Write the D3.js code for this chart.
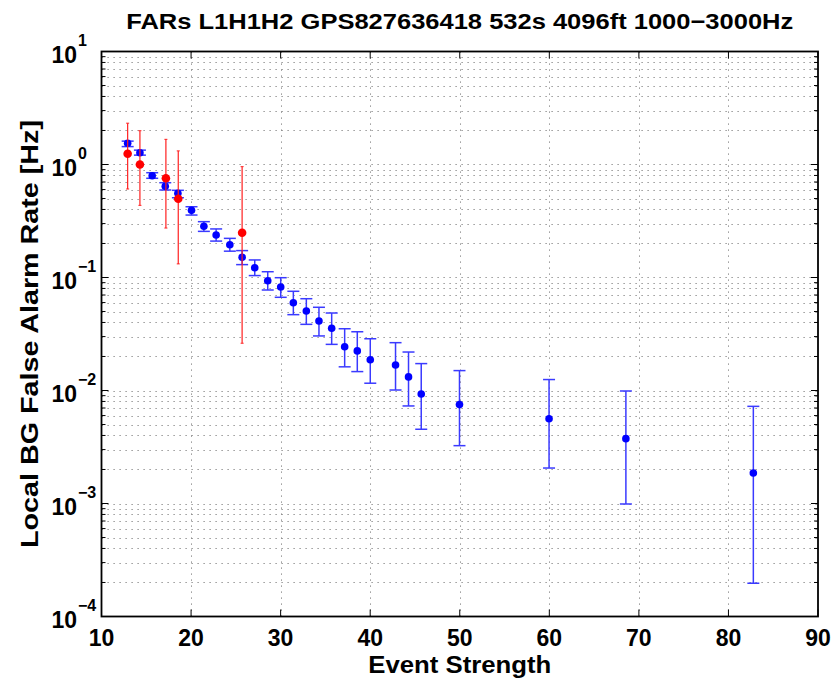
<!DOCTYPE html>
<html>
<head>
<meta charset="utf-8">
<script src="https://cdn.jsdelivr.net/npm/d3@7"></script>
<style>
body{margin:0;background:#fff;}
text{font-family:"Liberation Sans",Arial,Helvetica,sans-serif;font-weight:bold;fill:#000;}
</style>
</head>
<body>
<svg width="837" height="681"></svg>
<script>
// background events (blue)
var bgX  = [12.92,14.29,15.66,17.12,18.53,20.05,21.43,22.8,24.33,25.7,27.11,28.56,30.01,31.42,32.87,34.28,35.7,37.15,38.56,40.01,42.83,44.28,45.7,49.97,59.97,68.55,82.78];
var bgY  = [1.54,1.27,0.796,0.641,0.556,0.393,0.284,0.238,0.195,0.151,0.122,0.0937,0.0824,0.0598,0.0506,0.0412,0.0355,0.0244,0.0224,0.0187,0.0168,0.0132,0.0093,0.0075,0.00562,0.00375,0.00186];
var bgHi = [1.61,1.34,0.846,0.690,0.591,0.423,0.312,0.269,0.222,0.173,0.143,0.1125,0.0996,0.0755,0.0649,0.0545,0.0485,0.0352,0.0331,0.0287,0.0265,0.0219,0.0173,0.0150,0.0125,0.0099,0.00724];
var bgLo = [1.44,1.21,0.755,0.595,0.508,0.357,0.256,0.210,0.171,0.130,0.104,0.0775,0.0668,0.0469,0.0385,0.0304,0.0256,0.0162,0.0147,0.0116,0.0101,0.0073,0.00454,0.00325,0.00206,0.00099,0.000197];
// foreground events (red)
var fgX  = [12.92,14.29,17.19,18.57,25.7];
var fgY  = [1.246,1.0,0.755,0.498,0.249];
var fgHi = [2.32,1.99,1.67,1.32,0.957];
var fgLo = [0.607,0.435,0.274,0.132,0.0262];

var xTicks = [10,20,30,40,50,60,70,80,90];
var yExps  = [-4,-3,-2,-1,0,1];

var titleText = "FARs L1H1H2 GPS827636418 532s 4096ft 1000\u22123000Hz";
var xLabel = "Event Strength";
var yLabel = "Local BG False Alarm Rate [Hz]";

var svg = d3.select('svg');
var L = 101.5, R = 818, T = 51.5, B = 616.5;

var x = d3.scaleLinear().domain([10,90]).range([L,R]);
var y = d3.scaleLog().domain([1e-4,10]).range([B,T]);

var allY = y.ticks(); // 1..9 per decade
var minorY = allY.filter(function(v){ var m = Math.round(v/Math.pow(10,Math.floor(Math.log10(v)+1e-9))); return m != 1; });
var majorY = yExps.map(function(e){ return Math.pow(10,e); });

// dotted grid
var grid = svg.append('g').attr('stroke','#000').attr('stroke-width',1).attr('stroke-dasharray','1.2,4.8').attr('opacity',0.5);
allY.forEach(function(v){
  if (v <= 1e-4 || v >= 10) return;
  grid.append('line').attr('x1',L).attr('x2',R).attr('y1',Math.round(y(v))+0.5).attr('y2',Math.round(y(v))+0.5);
});
xTicks.slice(1,-1).forEach(function(v){
  grid.append('line').attr('x1',Math.round(x(v))+0.5).attr('x2',Math.round(x(v))+0.5).attr('y1',T).attr('y2',B);
});

// ticks
var tk = svg.append('g').attr('stroke','#000').attr('stroke-width',1);
xTicks.forEach(function(v){
  tk.append('line').attr('x1',x(v)).attr('x2',x(v)).attr('y1',B).attr('y2',B-7);
  tk.append('line').attr('x1',x(v)).attr('x2',x(v)).attr('y1',T).attr('y2',T+7);
});
majorY.forEach(function(v){
  tk.append('line').attr('x1',L).attr('x2',L+7).attr('y1',y(v)).attr('y2',y(v));
  tk.append('line').attr('x1',R).attr('x2',R-7).attr('y1',y(v)).attr('y2',y(v));
});
minorY.forEach(function(v){
  tk.append('line').attr('x1',L).attr('x2',L+4).attr('y1',y(v)).attr('y2',y(v));
  tk.append('line').attr('x1',R).attr('x2',R-4).attr('y1',y(v)).attr('y2',y(v));
});

// blue error bars + dots
var blue = svg.append('g');
bgX.forEach(function(v,i){
  var cx = x(v);
  blue.append('line').attr('x1',cx).attr('x2',cx).attr('y1',y(bgHi[i])).attr('y2',y(bgLo[i])).attr('stroke','#3a3aff').attr('stroke-width',1.5);
  blue.append('line').attr('x1',cx-6).attr('x2',cx+6).attr('y1',y(bgHi[i])).attr('y2',y(bgHi[i])).attr('stroke','#3a3aff').attr('stroke-width',1.5);
  blue.append('line').attr('x1',cx-6).attr('x2',cx+6).attr('y1',y(bgLo[i])).attr('y2',y(bgLo[i])).attr('stroke','#3a3aff').attr('stroke-width',1.5);
});
blue.selectAll('circle').data(bgX).enter().append('circle')
  .attr('cx',function(d){return x(d);}).attr('cy',function(d,i){return y(bgY[i]);})
  .attr('r',3.8).attr('fill','#0000ff');

// red error bars + dots
var red = svg.append('g');
fgX.forEach(function(v,i){
  var cx = x(v);
  red.append('line').attr('x1',cx).attr('x2',cx).attr('y1',y(fgHi[i])).attr('y2',y(fgLo[i])).attr('stroke','#ff2020').attr('stroke-width',1.2);
  red.append('line').attr('x1',cx-1.5).attr('x2',cx+1.5).attr('y1',y(fgHi[i])).attr('y2',y(fgHi[i])).attr('stroke','#ff2020').attr('stroke-width',1);
  red.append('line').attr('x1',cx-1.5).attr('x2',cx+1.5).attr('y1',y(fgLo[i])).attr('y2',y(fgLo[i])).attr('stroke','#ff2020').attr('stroke-width',1);
});
red.selectAll('circle').data(fgX).enter().append('circle')
  .attr('cx',function(d){return x(d);}).attr('cy',function(d,i){return y(fgY[i]);})
  .attr('r',4.3).attr('fill','#ff0000');

// box
svg.append('rect').attr('x',L).attr('y',T).attr('width',R-L).attr('height',B-T)
  .attr('fill','none').attr('stroke','#000').attr('stroke-width',1.8);

// tick labels
xTicks.forEach(function(v){
  svg.append('text').attr('x',x(v)).attr('y',B+29).attr('text-anchor','middle')
    .style('font-size','23px').text(v);
});
yExps.forEach(function(e){
  var yy = y(Math.pow(10,e));
  svg.append('text').attr('x',77).attr('y',yy+11).attr('text-anchor','end')
    .style('font-size','23px').text('10');
  svg.append('text').attr('x',78).attr('y',yy-6).attr('text-anchor','start')
    .style('font-size','16px').text(e < 0 ? '\u2212'+(-e) : ''+e);
});

// titles
svg.append('text').attr('x',(L+R)/2).attr('y',29).attr('text-anchor','middle')
  .attr('textLength',667).attr('lengthAdjust','spacingAndGlyphs')
  .style('font-size','22px').text(titleText);
svg.append('text').attr('x',(L+R)/2).attr('y',673).attr('text-anchor','middle')
  .attr('textLength',183).attr('lengthAdjust','spacingAndGlyphs')
  .style('font-size','23px').text(xLabel);
svg.append('text').attr('transform','translate(38,'+((T+B)/2)+') rotate(-90)').attr('text-anchor','middle')
  .attr('textLength',428).attr('lengthAdjust','spacingAndGlyphs')
  .style('font-size','23px').text(yLabel);
</script>
</body>
</html>
